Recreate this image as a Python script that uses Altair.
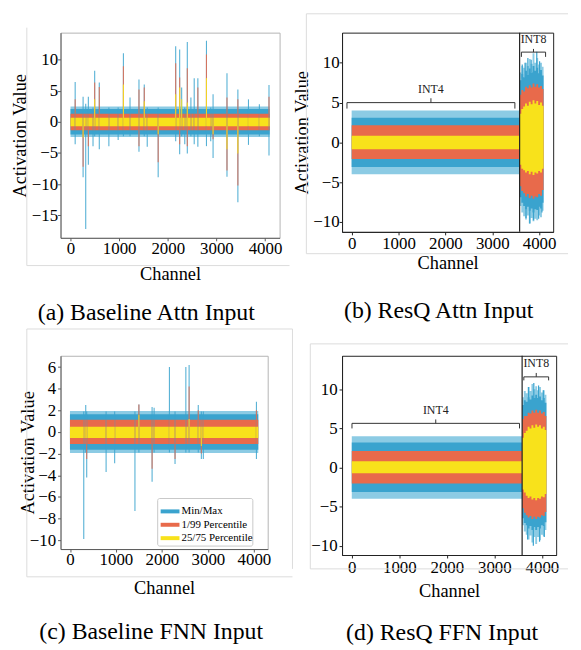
import altair as alt
import pandas as pd

FONT = "Liberation Serif, Times New Roman, DejaVu Serif, serif"
BLUE = "#3AA3CE"
BLUE_LIGHT = "#8CCBE4"
ORANGE = "#E86A4B"
YELLOW = "#F8E21B"
BORDER = "#dcdcdc"
SERIES = ["Min/Max", "1/99 Percentile", "25/75 Percentile"]
SERIES_COLORS = [BLUE, ORANGE, YELLOW]
X_DOMAIN = [-205, 4300]
X_TICKS = [0, 1000, 2000, 3000, 4000]
INT_BOUNDARY = [3584]

# ---------------- (a) Baseline Attn Input ----------------
A_CH = [0, 4095]
A_FRINGE_LO = [-2.45, -2.45]
A_FRINGE_HI = [2.45, 2.45]
A_MIN = [-2.05, -2.05]
A_MAX = [2.05, 2.05]
A_P1 = [-1.35, -1.35]
A_P99 = [1.3, 1.3]
A_P25 = [-0.7, -0.7]
A_P75 = [0.65, 0.65]
A_SPK_CH = [96, 259, 313, 367, 463, 497, 592, 789, 980, 1088,
            1224, 1408, 1517, 1578, 1803, 2163, 2245, 2286, 2350, 2402,
            2476, 2544, 2619, 2796, 2884, 2932, 3218, 3442, 3660, 3884,
            4082]
A_SPK_MAX = [6.4, 4.0, 2.9, 4.0, 2.3, 8.2, 6.3, 2.3, 2.3, 11.0,
             3.9, 6.8, 6.0, 2.3, 2.3, 12.1, 11.6, 5.5, 2.3, 12.8,
             3.9, 7.0, 7.0, 13.0, 2.3, 4.4, 7.8, 5.2, 3.6, 2.8,
             5.9]
A_SPK_P99 = [3.6, 1.3, 1.3, 1.3, 1.3, 6.3, 5.6, 1.3, 1.3, 8.9,
             1.3, 5.2, 5.5, 1.3, 1.3, 9.4, 7.1, 1.3, 1.3, 8.6,
             1.3, 1.3, 5.5, 10.8, 1.3, 1.3, 3.9, 3.6, 1.3, 1.3,
             4.0]
A_SPK_P75 = [0.65, 0.65, 0.65, 0.65, 0.65, 3.6, 0.65, 0.65, 0.65, 6.0,
             0.65, 0.65, 3.3, 0.65, 0.65, 4.4, 5.5, 3.6, 0.65, 3.1,
             0.65, 0.65, 0.65, 7.0, 0.65, 0.65, 0.65, 0.65, 0.65, 0.65,
             0.65]
A_SPK_P25 = [-0.7, -2.5, -0.7, -0.7, -0.7, -0.7, -0.7, -0.7, -0.7, -0.7,
             -0.7, -0.7, -0.7, -0.7, -2.0, -0.7, -0.7, -0.7, -0.7, -0.7,
             -0.7, -0.7, -0.7, -0.7, -0.7, -2.0, -4.4, -5.1, -0.7, -0.7,
             -0.7]
A_SPK_P1 = [-1.35, -7.2, -1.35, -3.9, -1.35, -1.35, -1.35, -1.35, -1.35, -1.35,
            -1.35, -3.9, -1.35, -1.35, -6.5, -1.35, -3.6, -1.35, -1.35, -3.9,
            -1.35, -1.35, -1.35, -1.35, -1.35, -2.8, -7.8, -10.2, -1.35, -1.35,
            -1.35]
A_SPK_MIN = [-3.6, -8.9, -17.2, -6.9, -3.9, -2.3, -4.4, -3.9, -2.9, -2.3,
             -2.3, -4.8, -2.3, -4.0, -8.9, -3.1, -5.2, -2.3, -3.6, -5.1,
             -2.3, -3.6, -4.0, -3.9, -3.1, -5.8, -8.8, -12.9, -3.7, -2.3,
             -5.4]

# ---------------- (b) ResQ Attn Input ----------------
B_CH4 = [0, 3584]
B4_FRINGE_LO = [-4.0, -4.0]
B4_FRINGE_HI = [4.0, 4.0]
B4_MIN = [-3.1, -3.1]
B4_MAX = [3.1, 3.1]
B4_P1 = [-2.1, -2.1]
B4_P99 = [2.15, 2.15]
B4_P25 = [-0.85, -0.85]
B4_P75 = [0.85, 0.85]
B_CH8 = [3584, 3620, 3660, 3700, 3740, 3780, 3820, 3860, 3900, 3940, 3980, 4020, 4060, 4095]
B8_FRINGE_HI = [8.8, 9.6, 9.4, 10.0, 9.6, 10.5, 9.9, 11.2, 10.0, 10.6, 9.8, 10.0, 9.5, 9.5]
B8_MAX = [7.8, 8.6, 8.2, 9.0, 8.5, 9.3, 8.8, 9.6, 9.0, 9.4, 8.7, 9.1, 8.4, 8.4]
B8_P99 = [6.0, 6.6, 6.4, 7.0, 6.8, 7.2, 6.9, 7.4, 7.0, 7.3, 6.9, 7.1, 6.7, 6.7]
B8_P75 = [3.6, 4.2, 4.5, 4.9, 4.6, 5.1, 4.8, 5.3, 4.9, 5.2, 4.7, 5.0, 4.6, 4.6]
B8_P25 = [-2.8, -3.3, -3.5, -3.8, -3.6, -4.0, -3.7, -4.1, -3.8, -3.9, -3.6, -3.8, -3.3, -3.3]
B8_P1 = [-5.5, -6.1, -6.4, -6.8, -6.5, -7.0, -6.7, -7.1, -6.8, -6.9, -6.5, -6.7, -6.0, -6.0]
B8_MIN = [-6.9, -7.6, -8.0, -8.4, -8.1, -8.6, -8.3, -8.8, -8.4, -8.5, -8.1, -8.3, -7.6, -7.6]
B8_FRINGE_LO = [-8.0, -8.8, -9.3, -9.7, -9.2, -10.2, -9.5, -9.9, -9.6, -9.8, -9.2, -9.4, -8.6, -8.6]
B_SPK_CH = [3640, 3700, 3760, 3830, 3950, 4010, 3720, 3800, 3880, 3990, 4060]
B_SPK_LO = [8.0, 8.2, 8.5, 8.8, 8.9, 8.5, -9.5, -10.2, -9.8, -9.6, -8.8]
B_SPK_HI = [9.8, 10.0, 10.6, 10.4, 11.4, 10.2, -8.0, -8.3, -8.3, -8.0, -7.4]
B_BRACE_X1 = [-100, 3622]
B_BRACE_X2 = [3483, 4138]
B_BRACE_Y = [5.0, 11.35]
B_BRACE_END = [4.25, 10.75]
B_BRACE_TIP = [5.55, 11.75]
B_BRACE_LABEL_Y = [6.75, 13.0]
B_BRACE_TEXT = ["INT4", "INT8"]

# ---------------- (c) Baseline FNN Input ----------------
C_CH = [0, 4095]
C_FRINGE_LO = [-1.95, -1.95]
C_FRINGE_HI = [1.95, 1.95]
C_MIN = [-1.65, -1.65]
C_MAX = [1.65, 1.65]
C_P1 = [-1.1, -1.1]
C_P99 = [1.13, 1.13]
C_P25 = [-0.56, -0.56]
C_P75 = [0.48, 0.48]
C_SPK_CH = [300, 343, 364, 786, 972, 1413, 1499, 1786, 1830, 2163,
            2285, 2520, 2591, 2790, 2857, 2900, 4055]
C_SPK_MAX = [1.9, 2.5, 1.9, 1.9, 1.9, 1.9, 2.55, 2.3, 2.25, 6.0,
             1.9, 6.0, 6.2, 2.5, 1.9, 1.9, 2.8]
C_SPK_P99 = [1.13, 1.13, 1.13, 1.13, 1.13, 1.13, 2.55, 1.13, 1.13, 1.13,
             1.13, 1.13, 4.2, 2.0, 1.13, 1.13, 2.0]
C_SPK_P75 = [0.48, 0.48, 0.48, 0.48, 0.48, 0.48, 1.6, 0.48, 0.48, 0.48,
             0.48, 0.48, 1.2, 0.48, 0.48, 0.48, 0.48]
C_SPK_P25 = [-0.56, -0.56, -0.56, -0.56, -0.56, -0.56, -0.56, -0.56, -0.56, -0.56,
             -0.56, -0.56, -0.56, -0.56, -1.3, -0.56, -0.56]
C_SPK_P1 = [-1.1, -1.1, -2.5, -1.1, -1.1, -1.1, -1.1, -3.4, -1.1, -1.1,
            -2.5, -1.1, -1.1, -1.1, -2.0, -1.1, -1.1]
C_SPK_MIN = [-9.9, -1.9, -4.2, -3.7, -2.9, -7.3, -1.9, -4.6, -1.9, -1.9,
             -2.95, -1.9, -1.9, -1.9, -2.5, -2.5, -2.5]

# ---------------- (d) ResQ FFN Input ----------------
D_CH4 = [0, 3584]
D4_FRINGE_LO = [-4.0, -4.0]
D4_FRINGE_HI = [4.0, 4.0]
D4_MIN = [-3.15, -3.15]
D4_MAX = [3.2, 3.2]
D4_P1 = [-2.05, -2.05]
D4_P99 = [2.1, 2.1]
D4_P25 = [-0.75, -0.75]
D4_P75 = [0.8, 0.8]
D_CH8 = [3584, 3620, 3660, 3700, 3740, 3780, 3820, 3860, 3900, 3940, 3980, 4020, 4060, 4095]
D8_FRINGE_HI = [9.0, 9.8, 9.5, 10.3, 9.8, 10.7, 10.0, 10.4, 9.9, 10.3, 9.6, 9.9, 9.3, 9.3]
D8_MAX = [8.0, 8.6, 8.4, 9.0, 8.7, 9.2, 8.9, 9.3, 8.9, 9.1, 8.6, 8.9, 8.3, 8.3]
D8_P99 = [6.2, 6.6, 6.6, 7.0, 6.9, 7.3, 7.0, 7.4, 7.0, 7.3, 6.9, 7.1, 6.6, 6.6]
D8_P75 = [3.8, 4.4, 4.7, 5.2, 5.0, 5.4, 5.1, 5.5, 5.2, 5.4, 5.0, 5.2, 4.8, 4.8]
D8_P25 = [-2.8, -3.2, -3.6, -3.9, -3.7, -4.1, -3.9, -4.2, -3.9, -4.0, -3.7, -3.8, -3.4, -3.4]
D8_P1 = [-5.2, -5.8, -6.1, -6.4, -6.2, -6.6, -6.3, -6.6, -6.3, -6.4, -6.1, -6.2, -5.7, -5.7]
D8_MIN = [-6.5, -7.1, -7.4, -7.8, -7.5, -8.0, -7.6, -8.0, -7.6, -7.8, -7.4, -7.5, -7.0, -7.0]
D8_FRINGE_LO = [-7.4, -8.2, -8.6, -9.2, -8.7, -9.6, -8.9, -9.8, -8.9, -9.3, -8.6, -8.8, -8.0, -8.0]
D_SPK_CH = [3720, 3830, 3930, 4030, 3700, 3820, 3950, 4050]
D_SPK_LO = [8.4, 8.9, 8.9, 8.6, -9.2, -10.0, -9.5, -8.9]
D_SPK_HI = [10.3, 10.8, 10.5, 9.9, -7.3, -7.6, -7.6, -7.4]
D_BRACE_X1 = [4, 3620]
D_BRACE_X2 = [3529, 4142]
D_BRACE_Y = [5.65, 11.6]
D_BRACE_END = [5.0, 11.15]
D_BRACE_TIP = [6.15, 12.1]
D_BRACE_LABEL_Y = [7.4, 13.4]
D_BRACE_TEXT = ["INT4", "INT8"]

ONE = pd.DataFrame({"k": [0]})


def band_df(seg, lo_key, hi_key):
    return pd.DataFrame({"ch": seg["ch"], "lo": seg[lo_key], "hi": seg[hi_key]})


def make_panel(cfg):
    xs = alt.Scale(domain=X_DOMAIN, nice=False, zero=False)
    ys = alt.Scale(domain=cfg["ydom"], nice=False, zero=False)
    dc = cfg["domain_color"]
    xaxis = alt.Axis(values=X_TICKS, title="Channel", format="d", grid=False,
                     labelFont=FONT, labelFontSize=17, labelColor="black",
                     titleFont=FONT, titleFontSize=18.5, titleFontWeight="normal",
                     titleColor="black", tickSize=3, tickColor=dc, domainColor=dc,
                     labelPadding=cfg["xlabpad"], titlePadding=cfg["xtitlepad"],
                     labelFlush=False, labelOverlap=False)
    yaxis = alt.Axis(values=cfg["yticks"], title=cfg["ytitle"], format="d", grid=False,
                     labelFont=FONT, labelFontSize=17, labelColor="black",
                     titleFont=FONT, titleFontSize=18.5, titleFontWeight="normal",
                     titleColor="black", tickSize=3, tickColor=dc, domainColor=dc,
                     labelPadding=cfg["ylabpad"], titlePadding=cfg["ytitlepad"],
                     labelFlush=False, labelOverlap=False)

    def X(f):
        return alt.X(f, type="quantitative", scale=xs, axis=xaxis)

    def Y(f):
        return alt.Y(f, type="quantitative", scale=ys, axis=yaxis)

    layers = []
    # faint outline of the sub-figure
    for (bx1, by1, bx2, by2) in cfg["outline"]:
        enc = {"x": alt.value(bx1), "y": alt.value(by1)}
        if bx1 == bx2:
            enc["y2"] = alt.value(by2)
        else:
            enc["x2"] = alt.value(bx2)
        layers.append(alt.Chart(ONE).mark_rule(color=BORDER, strokeWidth=1).encode(**enc))

    for lo_key, hi_key, color in [("fringe_lo", "fringe_hi", BLUE_LIGHT),
                                  ("min", "max", BLUE),
                                  ("p1", "p99", ORANGE),
                                  ("p25", "p75", YELLOW)]:
        for seg in cfg["segments"]:
            df = band_df(seg, lo_key, hi_key)
            layers.append(alt.Chart(df).mark_area(color=color, opacity=1,
                                                  interpolate=seg["interp"]).encode(
                x=X("ch"), y=Y("lo"), y2="hi"))

    # extra blue spikes (INT8 region)
    if cfg.get("extra") is not None:
        ch, lo, hi = cfg["extra"]
        df = pd.DataFrame({"ch": ch, "lo": lo, "hi": hi})
        layers.append(alt.Chart(df).mark_rule(color=BLUE, strokeWidth=1.2).encode(
            x=X("ch"), y=Y("lo"), y2="hi"))

    # outlier channels
    if cfg.get("spikes") is not None:
        sp = cfg["spikes"]
        for name, color, lo_key, hi_key in [(SERIES[0], BLUE, "min", "max"),
                                            (SERIES[1], ORANGE, "p1", "p99"),
                                            (SERIES[2], YELLOW, "p25", "p75")]:
            df = pd.DataFrame({"ch": sp["ch"], "lo": sp[lo_key], "hi": sp[hi_key]})
            layers.append(alt.Chart(df).mark_rule(color=color, strokeWidth=1.1,
                                                  opacity=0.85).encode(
                x=X("ch"), y=Y("lo"), y2="hi"))

    # legend box (panel c)
    if cfg.get("legend") is not None:
        lx, ly, lw, lh, row = cfg["legend"]
        layers.append(alt.Chart(ONE).mark_rect(fill="white", stroke="#c8c8c8", strokeWidth=1,
                                               cornerRadius=2).encode(
            x=alt.value(lx), x2=alt.value(lx + lw), y=alt.value(ly), y2=alt.value(ly + lh)))
        for i, (name, color) in enumerate(zip(SERIES, SERIES_COLORS)):
            yy = ly + 13 + row * i
            layers.append(alt.Chart(ONE).mark_rule(color=color, strokeWidth=4).encode(
                x=alt.value(lx + 3), x2=alt.value(lx + 22), y=alt.value(yy)))
            layers.append(alt.Chart(pd.DataFrame({"t": [name]})).mark_text(
                font=FONT, fontSize=11, color="black", align="left", baseline="middle").encode(
                x=alt.value(lx + 24), y=alt.value(yy), text="t:N"))

    # INT4 / INT8 boundary and braces
    if cfg.get("braces") is not None:
        bdf = pd.DataFrame({"ch": INT_BOUNDARY})
        layers.append(alt.Chart(bdf).mark_rule(color="#222222", strokeWidth=1.2).encode(
            x=X("ch"), y=alt.value(0), y2=alt.value(cfg["h"])))
        x1, x2, yb, yend, ytip, ylab, txt = cfg["braces"]
        hdf = pd.DataFrame({"ch": x1, "ch2": x2, "lo": yb})
        layers.append(alt.Chart(hdf).mark_rule(color="#333333", strokeWidth=1).encode(
            x=X("ch"), x2="ch2", y=Y("lo")))
        ends = pd.DataFrame({"ch": list(x1) + list(x2), "lo": list(yend) * 2,
                             "hi": list(yb) * 2})
        layers.append(alt.Chart(ends).mark_rule(color="#333333", strokeWidth=1).encode(
            x=X("ch"), y=Y("lo"), y2="hi"))
        mids = pd.DataFrame({"ch": [(a + b) / 2 for a, b in zip(x1, x2)], "lo": yb, "hi": ytip})
        layers.append(alt.Chart(mids).mark_rule(color="#333333", strokeWidth=1).encode(
            x=X("ch"), y=Y("lo"), y2="hi"))
        labs = pd.DataFrame({"ch": [(a + b) / 2 for a, b in zip(x1, x2)], "lo": ylab, "t": txt})
        layers.append(alt.Chart(labs).mark_text(font=FONT, fontSize=12, color="#222222",
                                                baseline="middle", align="center").encode(
            x=X("ch"), y=Y("lo"), text="t:N"))

    return alt.layer(*layers).properties(
        width=cfg["w"], height=cfg["h"],
        view=alt.ViewBackground(stroke=cfg["frame"], strokeWidth=1),
        title=alt.TitleParams(text=cfg["caption"], orient="bottom", anchor="middle",
                              frame="group", dx=cfg["cap_dx"], offset=cfg["cap_off"],
                              font=FONT, fontSize=24, fontWeight="normal", color="black"))


def seg(ch, flo, fhi, mn, mx, p1, p99, p25, p75, interp):
    return {"ch": ch, "fringe_lo": flo, "fringe_hi": fhi, "min": mn, "max": mx,
            "p1": p1, "p99": p99, "p25": p25, "p75": p75, "interp": interp}


seg_a = [seg(A_CH, A_FRINGE_LO, A_FRINGE_HI, A_MIN, A_MAX, A_P1, A_P99, A_P25, A_P75, "linear")]
seg_b = [seg(B_CH4, B4_FRINGE_LO, B4_FRINGE_HI, B4_MIN, B4_MAX, B4_P1, B4_P99, B4_P25, B4_P75,
             "linear"),
         seg(B_CH8, B8_FRINGE_LO, B8_FRINGE_HI, B8_MIN, B8_MAX, B8_P1, B8_P99, B8_P25, B8_P75,
             "step-after")]
seg_c = [seg(C_CH, C_FRINGE_LO, C_FRINGE_HI, C_MIN, C_MAX, C_P1, C_P99, C_P25, C_P75, "linear")]
seg_d = [seg(D_CH4, D4_FRINGE_LO, D4_FRINGE_HI, D4_MIN, D4_MAX, D4_P1, D4_P99, D4_P25, D4_P75,
             "linear"),
         seg(D_CH8, D8_FRINGE_LO, D8_FRINGE_HI, D8_MIN, D8_MAX, D8_P1, D8_P99, D8_P25, D8_P75,
             "step-after")]

panel_a = make_panel({
    "segments": seg_a, "ydom": [-18.6, 14.3], "yticks": [-15, -10, -5, 0, 5, 10],
    "ytitle": "Activation Value", "w": 221, "h": 207, "frame": "#b4b4b4",
    "domain_color": "#5a5a5a", "xlabpad": 0, "xtitlepad": 8, "ylabpad": 0, "ytitlepad": 2,
    "spikes": {"ch": A_SPK_CH, "max": A_SPK_MAX, "p99": A_SPK_P99, "p75": A_SPK_P75,
               "p25": A_SPK_P25, "p1": A_SPK_P1, "min": A_SPK_MIN},
    "outline": [(-34, -5, -34, 235), (-34, 235, 231, 235)],
    "caption": "(a) Baseline Attn Input", "cap_dx": -24, "cap_off": 18})

panel_b = make_panel({
    "segments": seg_b, "ydom": [-11.25, 13.8], "yticks": [-10, -5, 0, 5, 10],
    "ytitle": "Activation Value", "w": 213, "h": 201, "frame": "#222222",
    "domain_color": "#222222", "xlabpad": 1, "xtitlepad": 2, "ylabpad": 0, "ytitlepad": 1,
    "extra": (B_SPK_CH, B_SPK_LO, B_SPK_HI),
    "braces": (B_BRACE_X1, B_BRACE_X2, B_BRACE_Y, B_BRACE_END, B_BRACE_TIP,
               B_BRACE_LABEL_Y, B_BRACE_TEXT),
    "outline": [(-36, -19, -36, 223), (-36, -19, 228, -19), (-36, 223, 228, 223)],
    "caption": "(b) ResQ Attn Input", "cap_dx": -9, "cap_off": 27})

panel_c = make_panel({
    "segments": seg_c, "ydom": [-10.83, 7.05], "yticks": [-10, -8, -6, -4, -2, 0, 2, 4, 6],
    "ytitle": "Activation Value", "w": 209, "h": 195, "frame": "#b4b4b4",
    "domain_color": "#5a5a5a", "xlabpad": 0, "xtitlepad": 11, "ylabpad": 2, "ytitlepad": -8,
    "spikes": {"ch": C_SPK_CH, "max": C_SPK_MAX, "p99": C_SPK_P99, "p75": C_SPK_P75,
               "p25": C_SPK_P25, "p1": C_SPK_P1, "min": C_SPK_MIN},
    "legend": (98, 144, 96, 48, 13.5),
    "outline": [(-34, -27, -34, 223), (-34, -27, 234, -27), (-34, 223, 234, 223),
                (234, -27, 234, 215)],
    "caption": "(c) Baseline FNN Input", "cap_dx": -13, "cap_off": 23})

panel_d = make_panel({
    "segments": seg_d, "ydom": [-11.2, 14.3], "yticks": [-10, -5, 0, 5, 10],
    "ytitle": None, "w": 216, "h": 201, "frame": "#222222",
    "domain_color": "#222222", "xlabpad": 2, "xtitlepad": 6, "ylabpad": 2, "ytitlepad": 2,
    "extra": (D_SPK_CH, D_SPK_LO, D_SPK_HI),
    "braces": (D_BRACE_X1, D_BRACE_X2, D_BRACE_Y, D_BRACE_END, D_BRACE_TIP,
               D_BRACE_LABEL_Y, D_BRACE_TEXT),
    "outline": [(-32, -12, -32, 215), (-32, -12, 228, -12), (-32, 215, 228, 215)],
    "caption": "(d) ResQ FFN Input", "cap_dx": -7, "cap_off": 21})

chart = alt.concat(panel_a, panel_b, panel_c, panel_d, columns=2,
                   spacing={"row": 119, "column": 63}, bounds="flush").properties(
    padding={"left": 1, "top": 2, "right": 4, "bottom": 4},
    background="white")

chart.save("out.html", embed_options={"renderer": "svg", "actions": False})
